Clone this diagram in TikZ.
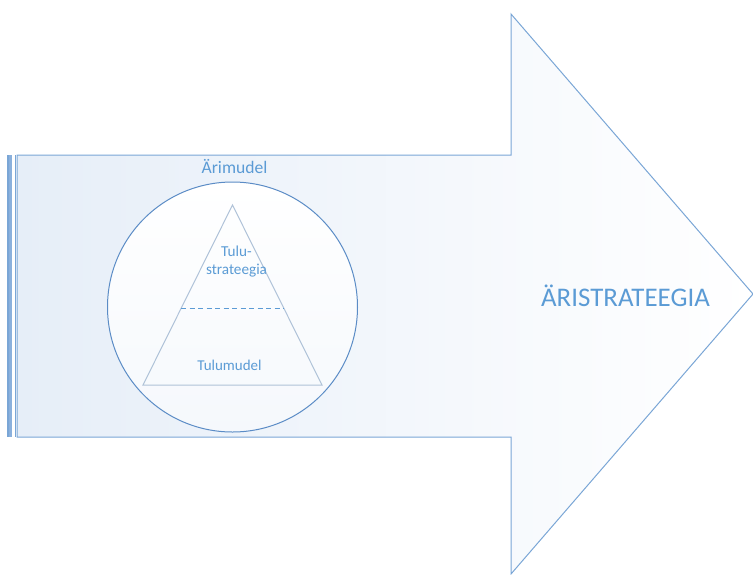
\documentclass[tikz,border=0pt]{standalone}
\usepackage{fontspec}
\setmainfont{Carlito}
\definecolor{edgeblue}{HTML}{7AA6D6}
\definecolor{ringblue}{HTML}{5B8CC6}
\definecolor{textblue}{HTML}{5B9BD5}
\definecolor{trigray}{HTML}{AFC2D8}
\definecolor{bandblue}{HTML}{8AB0DC}
\definecolor{tint}{HTML}{E6EEF8}
\begin{document}
\begin{tikzpicture}[x=1pt,y=-1pt,
  outline/.style={draw=edgeblue,line width=1pt},
  label/.style={text=textblue,align=center,inner sep=0pt}]
\useasboundingbox (0,0) rectangle (753,574);
% big arrow with horizontal fade
\path[left color=tint,right color=white]
  (17,155) -- (511,155) -- (511,14) -- (753,294) -- (511,574) -- (511,437) -- (17,437) -- cycle;
\draw[outline]
  (17,155) -- (511,155) -- (511,14) -- (753,294) -- (511,574) -- (511,437) -- (17,437) -- cycle;
% edge bands at the tail
\fill[bandblue] (8,155) rectangle (12,437);
\draw[edgeblue,line width=1.2pt] (8,155) -- (8,437);
\draw[edgeblue,line width=1.3pt] (15.3,155) -- (15.3,437);
% business model circle
\shade[top color=white,bottom color=tint!40] (232.5,307) circle[radius=125];
\draw[ringblue,line width=1pt] (232.5,307) circle[radius=125];
% revenue pyramid
\coordinate (apex) at (232.5,205);
\coordinate (bl) at (143,385);
\coordinate (br) at (322,385);
\coordinate (dl) at (181,308.5);
\coordinate (dr) at (284,308.5);
\draw[trigray,line width=1pt] (apex) -- (br) -- (bl) -- cycle;
\draw[textblue,line width=1pt,dash pattern=on 5pt off 3.5pt] (dl) -- (dr);
% labels
\node[label,font=\fontsize{17.6}{20}\selectfont] (model) at (234.5,167) {Ärimudel};
\node[label,font=\fontsize{15.2}{18}\selectfont] (strat) at (236.5,262) {Tulu-\\strateegia};
\node[label,font=\fontsize{15}{18}\selectfont] (revmodel) at (229.5,365) {Tulumudel};
\node[label,font=\fontsize{26.9}{30}\selectfont] (biz) at (625.5,296) {ÄRISTRATEEGIA};
\end{tikzpicture}
\end{document}
